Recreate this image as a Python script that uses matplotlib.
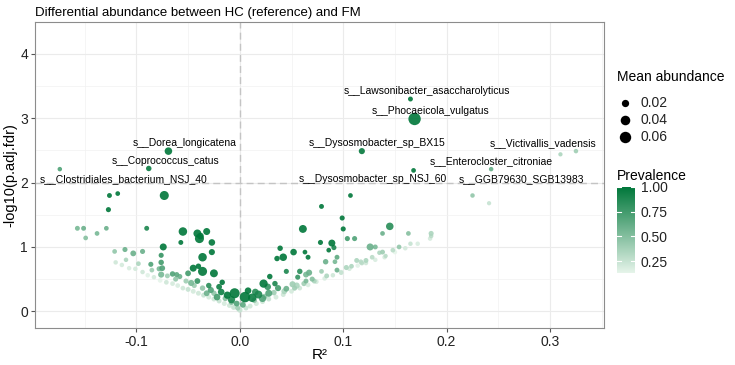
import matplotlib
matplotlib.use("Agg")
import matplotlib.pyplot as plt
import numpy as np
from matplotlib.colors import LinearSegmentedColormap, Normalize
from matplotlib.colorbar import ColorbarBase

plt.rcParams['font.family'] = ['Liberation Sans', 'DejaVu Sans']

# labelled species: R2, -log10(p.adj.fdr), mean abundance, prevalence
label_names = ["s__Lawsonibacter_asaccharolyticus", "s__Phocaeicola_vulgatus",
               "s__Dysosmobacter_sp_BX15", "s__Victivallis_vadensis",
               "s__Enterocloster_citroniae", "s__Dysosmobacter_sp_NSJ_60",
               "s__GGB79630_SGB13983", "s__Dorea_longicatena",
               "s__Coprococcus_catus", "s__Clostridiales_bacterium_NSJ_40"]
label_r2 = [0.165, 0.169, 0.118, 0.325, 0.243, 0.168, 0.225, -0.069, -0.088, -0.174]
label_p = [3.30, 2.99, 2.49, 2.49, 2.21, 2.19, 1.80, 2.49, 2.22, 2.21]
label_abund = [0.005, 0.072, 0.012, 0.003, 0.003, 0.004, 0.003, 0.022, 0.008, 0.003]
label_prev = [1.00, 1.00, 0.98, 0.40, 0.62, 1.00, 0.45, 1.00, 0.97, 0.70]
# where the text sits
text_x = [0.181, 0.184, 0.133, 0.293, 0.243, 0.129, 0.272, -0.053, -0.072, -0.112]
text_y = [3.42, 3.11, 2.61, 2.61, 2.33, 2.05, 2.05, 2.61, 2.33, 2.05]

# all other species
other_r2 = [
    0.310, 0.241, 0.107, -0.126, -0.118, -0.073, -0.127, 0.079, 0.099, 0.061,
    0.100, 0.145, 0.138, 0.163, 0.185, 0.185, 0.104, 0.111, 0.078, 0.089,
    0.091, 0.086, 0.126, 0.131, 0.138, 0.135, 0.141, 0.154, 0.094, 0.083,
    0.092, 0.094, 0.079, 0.113, 0.118, 0.122, 0.103, 0.098, 0.039, 0.042,
    0.036, 0.052, 0.063, 0.066, 0.045, 0.058, 0.056, 0.067, 0.064, 0.070,
    0.064, 0.051, 0.055, 0.029, 0.034, 0.023, 0.027, 0.037, 0.045,
    -0.157, -0.151, -0.149, -0.138, -0.129, -0.090, -0.055, -0.057, -0.041, -0.039,
    -0.038, -0.032, -0.027, -0.074, -0.036, -0.027, -0.121, -0.111, -0.103, -0.094,
    -0.076, -0.086, -0.076, -0.075, -0.078, -0.076, -0.065, -0.061, -0.058, -0.050,
    -0.045, -0.040, -0.036, -0.025, -0.041, -0.047, -0.017, -0.020, -0.030, -0.028,
    -0.005, 0.005, -0.012, 0.012, -0.008, 0.018, 0.008, -0.018, 0.015, -0.003,
    0.003, 0.000, -0.002, 0.022, -0.022, 0.028, -0.032,
    -0.120, -0.114, -0.107, -0.101, -0.094, -0.089, -0.083, -0.077, -0.071, -0.065,
    -0.060, -0.055, -0.050, -0.045, -0.040, -0.035, -0.030, -0.025, -0.020, -0.015,
    -0.010, -0.006,
    -0.110, -0.098, -0.085, -0.070, -0.062, -0.052, -0.044, -0.036, -0.025, -0.014,
    -0.008,
    0.006, 0.010, 0.016, 0.022, 0.028, 0.035, 0.042, 0.050, 0.058, 0.066,
    0.074, 0.082, 0.090, 0.098, 0.106, 0.114, 0.122, 0.131, 0.140, 0.150,
    0.160, 0.172, 0.184,
    0.014, 0.024, 0.033, 0.043, 0.053, 0.062, 0.072, 0.084, 0.108, 0.117,
    0.128, 0.148, 0.165]
other_p = [
    2.44, 1.68, 1.80, 1.80, 1.83, 1.80, 1.58, 1.63, 1.45, 1.28,
    1.28, 1.32, 1.21, 1.21, 1.21, 1.17, 1.13, 1.13, 1.07, 1.06,
    0.99, 0.95, 1.00, 1.00, 0.92, 0.91, 0.86, 1.00, 0.84, 0.77,
    0.77, 0.64, 0.62, 0.79, 0.75, 0.79, 0.68, 0.60, 0.98, 0.84,
    0.82, 0.92, 0.92, 0.84, 0.62, 0.62, 0.53, 0.60, 0.57, 0.50,
    0.47, 0.42, 0.40, 0.54, 0.43, 0.43, 0.38, 0.36, 0.35,
    1.29, 1.29, 1.14, 1.21, 1.29, 1.29, 1.24, 1.07, 1.21, 1.13,
    1.17, 1.24, 1.07, 1.00, 0.84, 0.92, 0.93, 0.96, 0.90, 0.93,
    0.87, 0.73, 0.76, 0.67, 0.66, 0.57, 0.58, 0.57, 0.54, 0.59,
    0.67, 0.70, 0.62, 0.59, 0.47, 0.44, 0.45, 0.38, 0.40, 0.33,
    0.28, 0.22, 0.25, 0.21, 0.18, 0.26, 0.32, 0.30, 0.30, 0.12,
    0.10, 0.02, 0.05, 0.20, 0.22, 0.28, 0.28,
    0.76, 0.72, 0.67, 0.66, 0.61, 0.56, 0.53, 0.48, 0.45, 0.43,
    0.40, 0.36, 0.34, 0.31, 0.28, 0.25, 0.22, 0.19, 0.16, 0.12,
    0.09, 0.06,
    0.80, 0.74, 0.64, 0.55, 0.50, 0.47, 0.40, 0.36, 0.28, 0.20,
    0.14,
    0.05, 0.08, 0.12, 0.15, 0.19, 0.22, 0.26, 0.31, 0.36, 0.41,
    0.46, 0.51, 0.56, 0.61, 0.66, 0.71, 0.75, 0.80, 0.84, 0.92,
    0.98, 1.05, 1.13,
    0.17, 0.23, 0.29, 0.31, 0.36, 0.43, 0.47, 0.55, 0.70, 0.77,
    0.84, 0.95, 1.05]
other_abund = [
    0.002, 0.002, 0.004, 0.005, 0.004, 0.035, 0.006, 0.005, 0.006, 0.025,
    0.006, 0.022, 0.004, 0.004, 0.006, 0.003, 0.006, 0.006, 0.006, 0.018,
    0.006, 0.004, 0.018, 0.005, 0.005, 0.003, 0.002, 0.004, 0.005, 0.008,
    0.004, 0.005, 0.004, 0.005, 0.004, 0.005, 0.006, 0.004, 0.008, 0.022,
    0.008, 0.015, 0.004, 0.005, 0.006, 0.008, 0.006, 0.012, 0.010, 0.006,
    0.005, 0.012, 0.012, 0.008, 0.008, 0.028, 0.015, 0.012, 0.010,
    0.005, 0.005, 0.004, 0.004, 0.004, 0.005, 0.030, 0.005, 0.025, 0.035,
    0.015, 0.018, 0.015, 0.018, 0.030, 0.012, 0.004, 0.006, 0.010, 0.006,
    0.006, 0.006, 0.008, 0.010, 0.006, 0.012, 0.008, 0.006, 0.006, 0.010,
    0.018, 0.008, 0.035, 0.025, 0.010, 0.012, 0.008, 0.010, 0.008, 0.012,
    0.045, 0.050, 0.020, 0.030, 0.020, 0.025, 0.015, 0.015, 0.015, 0.010,
    0.010, 0.008, 0.006, 0.020, 0.015, 0.018, 0.010,
    0.003, 0.003, 0.003, 0.003, 0.003, 0.003, 0.003, 0.004, 0.004, 0.004,
    0.004, 0.004, 0.005, 0.005, 0.005, 0.005, 0.005, 0.005, 0.005, 0.005,
    0.005, 0.005,
    0.003, 0.004, 0.004, 0.005, 0.006, 0.006, 0.006, 0.008, 0.008, 0.008,
    0.008,
    0.005, 0.005, 0.005, 0.005, 0.005, 0.005, 0.005, 0.004, 0.004, 0.004,
    0.004, 0.003, 0.003, 0.003, 0.003, 0.003, 0.003, 0.003, 0.003, 0.003,
    0.003, 0.003, 0.003,
    0.008, 0.008, 0.008, 0.010, 0.006, 0.006, 0.005, 0.005, 0.004, 0.004,
    0.004, 0.004, 0.003]
other_prev = [
    0.35, 0.25, 1.00, 1.00, 1.00, 1.00, 1.00, 1.00, 1.00, 1.00,
    1.00, 0.85, 0.60, 0.50, 0.35, 0.30, 0.75, 0.70, 1.00, 1.00,
    0.90, 1.00, 0.60, 0.55, 0.40, 0.35, 0.30, 0.45, 0.65, 0.60,
    0.55, 0.60, 0.40, 0.35, 0.30, 0.35, 0.35, 0.25, 1.00, 1.00,
    1.00, 1.00, 1.00, 1.00, 0.90, 0.85, 0.80, 0.60, 0.55, 0.50,
    0.55, 0.40, 0.35, 1.00, 0.90, 1.00, 0.80, 0.75, 0.60,
    0.55, 0.60, 0.50, 0.55, 0.60, 0.90, 1.00, 1.00, 1.00, 1.00,
    1.00, 1.00, 1.00, 1.00, 1.00, 1.00, 0.45, 0.60, 0.60, 0.60,
    0.80, 0.70, 0.75, 0.70, 0.55, 0.55, 0.70, 0.65, 0.60, 0.75,
    1.00, 1.00, 1.00, 1.00, 0.80, 0.55, 1.00, 0.95, 0.85, 0.70,
    1.00, 1.00, 1.00, 0.95, 0.90, 0.90, 1.00, 0.95, 0.85, 0.70,
    0.65, 0.25, 0.40, 0.70, 0.75, 0.70, 0.60,
    0.22, 0.20, 0.18, 0.20, 0.22, 0.15, 0.20, 0.13, 0.22, 0.20,
    0.18, 0.22, 0.25, 0.20, 0.22, 0.25, 0.20, 0.22, 0.25, 0.20,
    0.22, 0.25,
    0.35, 0.35, 0.40, 0.40, 0.45, 0.40, 0.40, 0.45, 0.45, 0.50,
    0.50,
    0.25, 0.22, 0.20, 0.22, 0.25, 0.20, 0.22, 0.20, 0.22, 0.18,
    0.20, 0.18, 0.22, 0.18, 0.20, 0.15, 0.22, 0.18, 0.20, 0.13,
    0.20, 0.18, 0.20,
    0.45, 0.45, 0.40, 0.35, 0.40, 0.40, 0.35, 0.35, 0.35, 0.30,
    0.30, 0.30, 0.25]

size_breaks = [0.02, 0.04, 0.06]
prev_ticks = [0.25, 0.50, 0.75, 1.00]

r2 = np.array(label_r2 + other_r2)
logp = np.array(label_p + other_p)
abund = np.array(label_abund + other_abund)
prev = np.array(label_prev + other_prev)


def size_of(a):
    return 7.5 + 1000 * np.asarray(a)


cmap = LinearSegmentedColormap.from_list("prev", ["#e6f4ea", "#00773a"])
norm = Normalize(vmin=prev.min(), vmax=1.0)

fig = plt.figure(figsize=(7.35, 3.65), dpi=100)
ax = fig.add_axes([0.0476, 0.1014, 0.774, 0.8370])

order = np.argsort(prev, kind="stable")
ax.scatter(r2[order], logp[order], s=size_of(abund[order]), c=prev[order],
           cmap=cmap, norm=norm, linewidths=0, alpha=0.9, zorder=3)

ax.axvline(0, color="#c4c4c4", ls=(0, (5, 3)), lw=1.0, zorder=2)
ax.axhline(2, color="#c4c4c4", ls=(0, (5, 3)), lw=1.0, zorder=2)

for name, tx, ty in zip(label_names, text_x, text_y):
    ax.text(tx, ty, name, ha="center", va="center", fontsize=7.5, color="black", zorder=4)

ax.set_xlim(-0.198, 0.352)
ax.set_ylim(-0.26, 4.49)
ax.set_xticks([-0.1, 0.0, 0.1, 0.2, 0.3])
ax.set_xticklabels(["-0.1", "0.0", "0.1", "0.2", "0.3"])
ax.set_yticks([0, 1, 2, 3, 4])
ax.set_xticks([-0.15, -0.05, 0.05, 0.15, 0.25, 0.35], minor=True)
ax.set_yticks([0.5, 1.5, 2.5, 3.5], minor=True)
ax.grid(which="major", color="#ebebeb", lw=0.8, zorder=0)
ax.grid(which="minor", color="#f2f2f2", lw=0.5, zorder=0)
ax.set_axisbelow(True)
for sp in ax.spines.values():
    sp.set_color("#8c8c8c")
    sp.set_linewidth(0.8)
ax.tick_params(which="major", length=3, color="#555555", labelsize=10,
               labelcolor="#222222", pad=2)
ax.tick_params(which="minor", length=0)
ax.set_xlabel("R²", fontsize=11, labelpad=-1)
ax.set_ylabel("-log10(p.adj.fdr)", fontsize=10.5, labelpad=2)
ax.set_title("Differential abundance between HC (reference) and FM",
             fontsize=9.5, loc="left", pad=5)

# size legend
fig.text(617 / 735, 1 - 77 / 365, "Mean abundance", fontsize=10, va="center")
leg = fig.add_axes([0, 0, 1, 1], facecolor="none")
leg.set_xlim(0, 735)
leg.set_ylim(365, 0)
leg.axis("off")
for i, b in enumerate(size_breaks):
    yy = 103 + 17 * i
    leg.scatter([625], [yy], s=size_of(b), color="black", linewidths=0)
    leg.text(641, yy, f"{b:.2f}", fontsize=10, va="center", color="#222222")

# colour bar
fig.text(617 / 735, 1 - 176 / 365, "Prevalence", fontsize=10, va="center")
cax = fig.add_axes([617 / 735, 1 - 273 / 365, 18 / 735, 86 / 365])
cb = ColorbarBase(cax, cmap=cmap, norm=norm, orientation="vertical")
cb.outline.set_visible(False)
cb.set_ticks(prev_ticks)
cb.set_ticklabels([f"{t:.2f}" for t in prev_ticks])
cax.tick_params(length=0, labelsize=10, labelcolor="#222222", pad=4)
for t in prev_ticks:
    cax.plot([0, 0.2], [t, t], color="white", lw=0.8, transform=cax.get_yaxis_transform())
    cax.plot([0.8, 1.0], [t, t], color="white", lw=0.8, transform=cax.get_yaxis_transform())

fig.savefig("out.png", dpi=100)
